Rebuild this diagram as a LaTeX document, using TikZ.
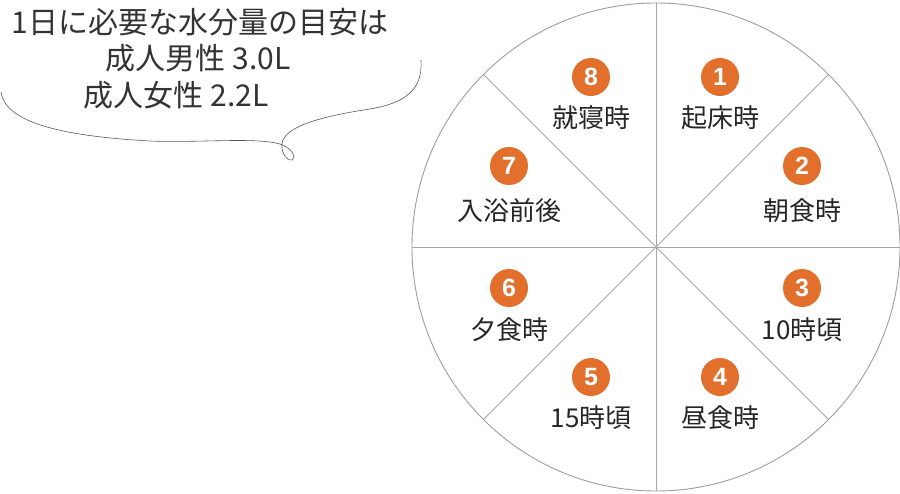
\documentclass[tikz,border=0pt]{standalone}
\usepackage{fontspec}
\setmainfont{Noto Sans CJK JP}
\newfontfamily\numfont{Liberation Sans}
\begin{document}
\begin{tikzpicture}[x=1pt,y=-1pt,
  ring/.style={draw=black!38,line width=0.9pt},
  spoke/.style={draw=black!35,line width=0.8pt},
  badge/.style={circle,fill=badgeorange,text=white,minimum size=38pt,inner sep=0pt,font=\numfont\bfseries\fontsize{25}{25}\selectfont},
  lbl/.style={text=black!85,inner sep=0pt,font=\fontsize{26}{26}\selectfont},
  bubtext/.style={text=black!80,inner sep=0pt,font=\fontsize{30}{30}\selectfont},
  bubline/.style={draw=black!65,line width=0.6pt}]
\definecolor{badgeorange}{HTML}{E2702C}
\useasboundingbox (0,0) rectangle (900,493);
\fill[white] (0,0) rectangle (900,493);
% wheel
\coordinate (c) at (656,247);
\node[circle,ring,minimum size=488pt,inner sep=0pt] (wheel) at (c) {};
\foreach \a in {0,45,90,135}{
  \draw[spoke] (wheel.\a) -- (wheel.\a+180);
}
% badges and labels
\node[badge] (b1) at (720,77) {1};
\node[lbl] (l1) at (720,118) {起床時};
\node[badge] (b2) at (802,166) {2};
\node[lbl] (l2) at (802,211) {朝食時};
\node[badge] (b3) at (802,288) {3};
\node[lbl] (l3) at (802,330) {10時頃};
\node[badge] (b4) at (720,377) {4};
\node[lbl] (l4) at (720,418) {昼食時};
\node[badge] (b5) at (591,377) {5};
\node[lbl] (l5) at (591,418) {15時頃};
\node[badge] (b6) at (509,288) {6};
\node[lbl] (l6) at (509,330) {夕食時};
\node[badge] (b7) at (509,166) {7};
\node[lbl] (l7) at (509,211) {入浴前後};
\node[badge] (b8) at (591,77) {8};
\node[lbl] (l8) at (591,118) {就寝時};
% speech bubble
\node[bubtext] (t1) at (200,22) {1日に必要な水分量の目安は};
\node[bubtext] (t2) at (198,58) {成人男性 3.0L};
\node[bubtext] (t3) at (176,95) {成人女性 2.2L};
\coordinate (bs) at (1,92);
\coordinate (be) at (421,60);
\draw[bubline] (bs) .. controls (5,122) and (60,136) .. (150,141)
  .. controls (200,143) and (255,137) .. (280,144)
  .. controls (292,148) and (297,158) .. (292,160)
  .. controls (286,161) and (279,150) .. (283,140)
  .. controls (290,124) and (330,115) .. (370,109)
  .. controls (405,103) and (423,90) .. (be);
\end{tikzpicture}
\end{document}
